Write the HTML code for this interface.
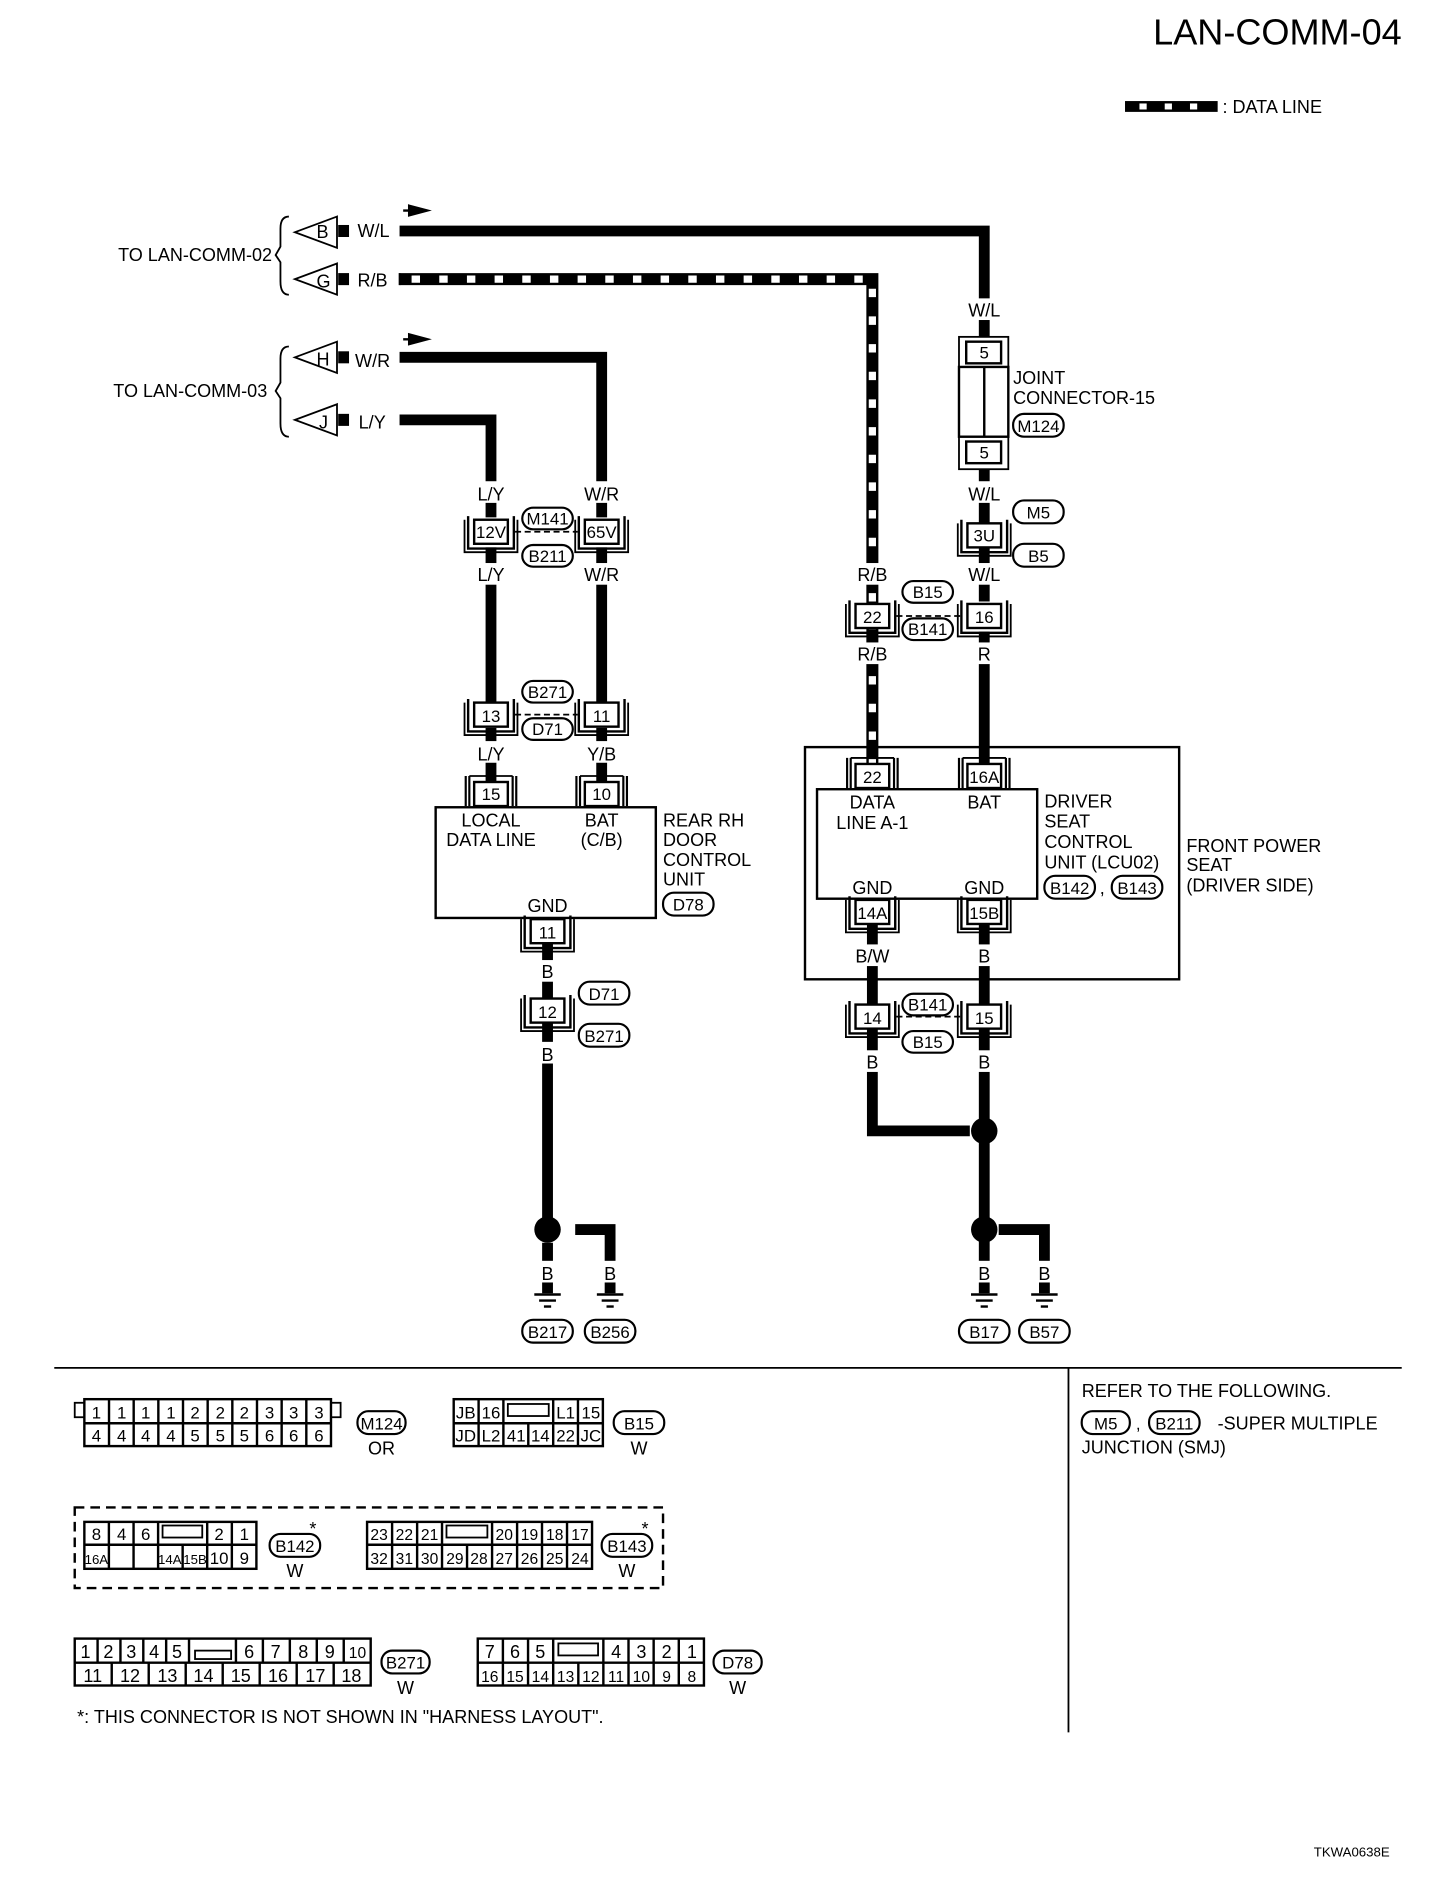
<!DOCTYPE html>
<html><head><meta charset="utf-8"><style>
html,body{margin:0;padding:0;background:#fff;}
svg{display:block;}
text{font-family:"Liberation Sans",sans-serif;fill:#000;}
</style></head><body>
<svg width="1456" height="1878" viewBox="0 0 1210 1561" xmlns="http://www.w3.org/2000/svg">
<defs>
<g id="cn"><path d="M-19,-13 V14 H19 V-13" fill="none" stroke="#000" stroke-width="2"/><path d="M-22,-10 V17 H22 V-10" fill="none" stroke="#000" stroke-width="1.5"/><rect x="-14" y="-10" width="28" height="20" fill="#fff" stroke="#000" stroke-width="2"/></g>
<g id="cnt"><path d="M-18,-15 V10 M18,-15 V10 M-21,-15 V10 M21,-15 V10" fill="none" stroke="#000" stroke-width="1.8"/><path d="M-18,-15 H18" stroke="#000" stroke-width="1.5"/><rect x="-14" y="-10" width="28" height="20" fill="#fff" stroke="#000" stroke-width="2"/></g>
<g id="gnd"><line x1="-11" y1="0" x2="11" y2="0" stroke="#000" stroke-width="2"/><line x1="-7" y1="5" x2="7" y2="5" stroke="#000" stroke-width="2"/><line x1="-3" y1="10" x2="3" y2="10" stroke="#000" stroke-width="2"/></g>
</defs>
<text x="1165" y="37" font-size="30" text-anchor="end">LAN-COMM-04</text>
<rect x="935" y="84" width="77" height="9" fill="#000"/>
<rect x="947" y="86" width="6" height="5" fill="#fff"/><rect x="968" y="86" width="6" height="5" fill="#fff"/><rect x="989" y="86" width="6" height="5" fill="#fff"/>
<text x="1016" y="94" font-size="15">: DATA LINE</text>

<g font-size="15">
<text x="226" y="217" text-anchor="end">TO LAN-COMM-02</text>
<text x="222" y="330" text-anchor="end">TO LAN-COMM-03</text>
<text x="297" y="197">W/L</text><text x="297" y="238">R/B</text>
<text x="295" y="305">W/R</text><text x="298" y="356">L/Y</text>
</g>
<g fill="none" stroke="#000" stroke-width="1.5">
<path d="M240,180 Q233,180 233,190 V205 L229,212 L233,218 V234 Q233,245 240,245"/>
<path d="M240,288 Q233,288 233,298 V318 L229,325 L233,331 V352 Q233,363 240,363"/>
<path d="M280,180 L245,193 L280,206 Z"/><path d="M280,219 L245,232 L280,245 Z"/>
<path d="M280,284 L245,297 L280,310 Z"/><path d="M280,336 L245,349 L280,362 Z"/>
</g>
<g font-size="15"><text x="263" y="198">B</text><text x="263" y="239">G</text><text x="263" y="304">H</text><text x="265" y="356">J</text></g>
<rect x="281" y="187" width="9" height="10" fill="#000"/><rect x="281" y="227" width="9" height="10" fill="#000"/>
<rect x="281" y="292" width="9" height="10" fill="#000"/><rect x="281" y="344" width="9" height="10" fill="#000"/>
<path d="M335,175 H345 M340,171 L355,175 L340,179 Z" stroke="#000" stroke-width="2"/>
<path d="M335,282 H345 M340,278 L355,282 L340,286 Z" stroke="#000" stroke-width="2"/>

<g fill="none" stroke="#000" stroke-width="9">
<path d="M332,192 H818 V280"/>
<path d="M818,390 V500"/><path d="M818,525 V640"/>
<path d="M332,297 H500 V430"/><path d="M500,455 V585"/><path d="M500,605 V655"/>
<path d="M332,349 H408 V430"/><path d="M408,455 V585"/><path d="M408,605 V655"/>
<path d="M455,768 V1012"/><path d="M478,1022 H507 V1075"/><path d="M455,1033 V1075"/>
<path d="M725,765 V940 H806"/><path d="M818,765 V1075"/><path d="M830,1022 H868 V1075"/>
</g>
<path d="M332,232 H725 V640" fill="none" stroke="#000" stroke-width="10"/>
<path d="M332,232 H725 V640" fill="none" stroke="#fff" stroke-width="6" stroke-dasharray="7,16" stroke-dashoffset="-10"/>
<path d="M332,227 V237" stroke="#000" stroke-width="1.5"/>
<circle cx="455" cy="1022" r="11"/><circle cx="818" cy="1022" r="11"/><circle cx="818" cy="940" r="11"/>
<g fill="#fff"><rect x="385" y="400" width="140" height="18"/><rect x="385" y="468" width="140" height="18"/><rect x="385" y="616" width="140" height="18"/>
<rect x="795" y="248" width="45" height="18"/><rect x="795" y="400" width="45" height="18"/><rect x="700" y="468" width="140" height="18"/><rect x="700" y="534" width="140" height="18"/>
<rect x="440" y="798" width="30" height="18"/><rect x="440" y="866" width="30" height="18"/><rect x="440" y="1048" width="80" height="18"/>
<rect x="700" y="785" width="140" height="18"/><rect x="700" y="873" width="140" height="18"/><rect x="800" y="1048" width="80" height="18"/></g>

<g font-size="15" text-anchor="middle">
<text x="818" y="263">W/L</text><text x="818" y="416">W/L</text><text x="818" y="483">W/L</text><text x="818" y="549">R</text>
<text x="725" y="483">R/B</text><text x="725" y="549">R/B</text>
<text x="408" y="416">L/Y</text><text x="500" y="416">W/R</text><text x="408" y="483">L/Y</text><text x="500" y="483">W/R</text>
<text x="408" y="632">L/Y</text><text x="500" y="632">Y/B</text>
<text x="455" y="813">B</text><text x="455" y="882">B</text><text x="455" y="1064">B</text><text x="507" y="1064">B</text>
<text x="725" y="800">B/W</text><text x="818" y="800">B</text><text x="725" y="888">B</text><text x="818" y="888">B</text>
<text x="818" y="1064">B</text><text x="868" y="1064">B</text>
</g>

<rect x="797" y="280" width="41" height="110" fill="#fff" stroke="#000" stroke-width="1.5"/>
<rect x="803" y="284" width="29" height="18" fill="#fff" stroke="#000" stroke-width="2"/>
<rect x="797" y="305" width="41" height="58" fill="#fff" stroke="#000" stroke-width="2"/>
<line x1="818" y1="305" x2="818" y2="363" stroke="#000" stroke-width="2"/>
<rect x="803" y="367" width="29" height="18" fill="#fff" stroke="#000" stroke-width="2"/>
<g font-size="14" text-anchor="middle"><text x="818" y="298">5</text><text x="818" y="381">5</text></g>
<text x="842" y="319" font-size="15">JOINT</text><text x="842" y="336" font-size="15">CONNECTOR-15</text>

<use href="#cn" x="408" y="442"/><use href="#cn" x="500" y="442"/>
<use href="#cn" x="818" y="445"/>
<use href="#cn" x="725" y="512"/><use href="#cn" x="818" y="512"/>
<use href="#cn" x="408" y="594"/><use href="#cn" x="500" y="594"/>
<use href="#cn" x="455" y="840"/>
<use href="#cn" x="725" y="845"/><use href="#cn" x="818" y="845"/>
<g font-size="14" text-anchor="middle">
<text x="408" y="447">12V</text><text x="500" y="447">65V</text><text x="818" y="450">3U</text>
<text x="725" y="518">22</text><text x="818" y="518">16</text>
<text x="408" y="600">13</text><text x="500" y="600">11</text>
<text x="455" y="846">12</text>
<text x="725" y="851">14</text><text x="818" y="851">15</text>
</g>
<g stroke="#000" stroke-width="1.5" stroke-dasharray="5,3"><line x1="428" y1="442" x2="480" y2="442"/><line x1="428" y1="594" x2="480" y2="594"/><line x1="745" y1="512" x2="798" y2="512"/><line x1="745" y1="845" x2="798" y2="845"/></g>

<g fill="#fff" stroke="#000" stroke-width="1.8">
<rect x="434" y="422" width="42" height="18" rx="9"/><rect x="434" y="453" width="42" height="18" rx="9"/>
<rect x="434" y="566" width="42" height="18" rx="9"/><rect x="434" y="597" width="42" height="18" rx="9"/>
<rect x="842" y="416" width="42" height="19" rx="9"/><rect x="842" y="452" width="42" height="19" rx="9"/>
<rect x="842" y="344" width="42" height="19" rx="9"/>
<rect x="750" y="483" width="42" height="18" rx="9"/><rect x="750" y="514" width="42" height="18" rx="9"/>
<rect x="750" y="826" width="42" height="18" rx="9"/><rect x="750" y="857" width="42" height="18" rx="9"/>
<rect x="481" y="816" width="42" height="19" rx="9"/><rect x="481" y="851" width="42" height="19" rx="9"/>
<rect x="551" y="742" width="42" height="19" rx="9"/>
<rect x="868" y="728" width="42" height="19" rx="9"/><rect x="924" y="728" width="42" height="19" rx="9"/>
<rect x="434" y="1097" width="42" height="19" rx="9"/><rect x="486" y="1097" width="42" height="19" rx="9"/>
<rect x="797" y="1097" width="42" height="19" rx="9"/><rect x="847" y="1097" width="42" height="19" rx="9"/>
</g>
<g font-size="14" text-anchor="middle">
<text x="455" y="436">M141</text><text x="455" y="467">B211</text>
<text x="455" y="580">B271</text><text x="455" y="611">D71</text>
<text x="863" y="431">M5</text><text x="863" y="467">B5</text><text x="863" y="359">M124</text>
<text x="771" y="497">B15</text><text x="771" y="528">B141</text>
<text x="771" y="840">B141</text><text x="771" y="871">B15</text>
<text x="502" y="831">D71</text><text x="502" y="866">B271</text>
<text x="572" y="757">D78</text>
<text x="889" y="743">B142</text><text x="945" y="743">B143</text>
<text x="455" y="1112">B217</text><text x="507" y="1112">B256</text>
<text x="818" y="1112">B17</text><text x="868" y="1112">B57</text>
</g>
<text x="914" y="743" font-size="15">,</text>

<use href="#gnd" x="455" y="1076"/><use href="#gnd" x="507" y="1076"/>
<use href="#gnd" x="818" y="1076"/><use href="#gnd" x="868" y="1076"/>

<rect x="362" y="671" width="183" height="92" fill="#fff" stroke="#000" stroke-width="2"/>
<g font-size="15"><text x="408" y="687" text-anchor="middle">LOCAL</text><text x="408" y="703" text-anchor="middle">DATA LINE</text>
<text x="500" y="687" text-anchor="middle">BAT</text><text x="500" y="703" text-anchor="middle">(C/B)</text>
<text x="455" y="758" text-anchor="middle">GND</text>
<text x="551" y="687">REAR RH</text><text x="551" y="703">DOOR</text><text x="551" y="720">CONTROL</text><text x="551" y="736">UNIT</text></g>
<rect x="669" y="621" width="311" height="193" fill="none" stroke="#000" stroke-width="2"/>
<rect x="679" y="656" width="183" height="91" fill="#fff" stroke="#000" stroke-width="2"/>
<g font-size="15"><text x="725" y="672" text-anchor="middle">DATA</text><text x="725" y="689" text-anchor="middle">LINE A-1</text>
<text x="818" y="672" text-anchor="middle">BAT</text>
<text x="725" y="743" text-anchor="middle">GND</text><text x="818" y="743" text-anchor="middle">GND</text>
<text x="868" y="671">DRIVER</text><text x="868" y="688">SEAT</text><text x="868" y="705">CONTROL</text><text x="868" y="722">UNIT (LCU02)</text>
<text x="986" y="708">FRONT POWER</text><text x="986" y="724">SEAT</text><text x="986" y="741">(DRIVER SIDE)</text></g>
<use href="#cnt" x="408" y="660"/><use href="#cnt" x="500" y="660"/>
<use href="#cnt" x="725" y="645"/><use href="#cnt" x="818" y="645"/>
<use href="#cn" x="455" y="774"/><use href="#cn" x="725" y="758"/><use href="#cn" x="818" y="758"/>
<g font-size="14" text-anchor="middle">
<text x="408" y="665">15</text><text x="500" y="665">10</text><text x="455" y="780">11</text>
<text x="725" y="651">22</text><text x="818" y="651">16A</text><text x="725" y="764">14A</text><text x="818" y="764">15B</text>
</g>

<line x1="45" y1="1137" x2="1165" y2="1137" stroke="#000" stroke-width="1.5"/>
<line x1="888" y1="1137" x2="888" y2="1440" stroke="#000" stroke-width="1.5"/>
<g font-size="15"><text x="899" y="1161">REFER TO THE FOLLOWING.</text>
<text x="1012" y="1188">-SUPER MULTIPLE</text><text x="899" y="1208">JUNCTION (SMJ)</text></g>
<g fill="#fff" stroke="#000" stroke-width="1.8"><rect x="899" y="1173" width="40" height="19" rx="9"/><rect x="955" y="1173" width="42" height="19" rx="9"/>
<rect x="297" y="1173" width="40" height="19" rx="9"/><rect x="510" y="1173" width="42" height="19" rx="9"/>
<rect x="224" y="1275" width="42" height="19" rx="9"/><rect x="500" y="1275" width="42" height="19" rx="9"/>
<rect x="317" y="1372" width="40" height="19" rx="9"/><rect x="593" y="1372" width="40" height="19" rx="9"/></g>
<g font-size="14" text-anchor="middle"><text x="919" y="1188">M5</text><text x="976" y="1188">B211</text><text x="946" y="1188">,</text>
<text x="317" y="1188">M124</text><text x="531" y="1188">B15</text><text x="245" y="1290">B142</text><text x="521" y="1290">B143</text>
<text x="337" y="1387">B271</text><text x="613" y="1387">D78</text></g>
<g font-size="15" text-anchor="middle"><text x="317" y="1209">OR</text><text x="531" y="1209">W</text><text x="245" y="1311">W</text><text x="521" y="1311">W</text>
<text x="337" y="1408">W</text><text x="613" y="1408">W</text><text x="260" y="1276">*</text><text x="536" y="1276">*</text></g>

<g fill="none" stroke="#000" stroke-width="2">
<rect x="70" y="1163" width="205" height="39"/><line x1="70" y1="1183" x2="275" y2="1183"/>
<path d="M90.5,1163V1202M111,1163V1202M131.5,1163V1202M152,1163V1202M172.5,1163V1202M193,1163V1202M213.5,1163V1202M234,1163V1202M254.5,1163V1202"/>
<rect x="62" y="1166" width="8" height="12" stroke-width="1.5"/><rect x="275" y="1166" width="8" height="12" stroke-width="1.5"/>
<rect x="377" y="1163" width="124" height="39"/><line x1="377" y1="1183" x2="501" y2="1183"/>
<path d="M397.7,1163V1202M418.3,1163V1183M439,1183V1202M459.7,1163V1202M480.3,1163V1202M418.3,1183V1202"/>
<rect x="422" y="1167" width="34" height="10" stroke-width="1.5"/>
<rect x="62" y="1253" width="489" height="67" stroke-dasharray="8,5"/>
<rect x="70" y="1265" width="143" height="39"/><line x1="70" y1="1284" x2="213" y2="1284"/>
<path d="M90.4,1265V1304M110.9,1265V1304M131.3,1265V1304M151.7,1284V1304M172.1,1265V1304M192.6,1265V1304"/>
<rect x="135" y="1268" width="33" height="10" stroke-width="1.5"/>
<rect x="305" y="1265" width="187" height="39"/><line x1="305" y1="1284" x2="492" y2="1284"/>
<path d="M325.8,1265V1304M346.6,1265V1304M367.3,1265V1304M388.1,1284V1304M408.9,1265V1304M429.7,1265V1304M450.4,1265V1304M471.2,1265V1304"/>
<rect x="371" y="1268" width="34" height="10" stroke-width="1.5"/>
<rect x="62" y="1362" width="246" height="39"/><line x1="62" y1="1382" x2="308" y2="1382"/>
<path d="M81,1362V1382M100,1362V1382M119,1362V1382M138,1362V1382M157,1362V1382M196,1362V1382M218.4,1362V1382M240.8,1362V1382M263.2,1362V1382M285.6,1362V1382"/>
<path d="M92.75,1382V1401M123.5,1382V1401M154.25,1382V1401M185,1382V1401M215.75,1382V1401M246.5,1382V1401M277.25,1382V1401"/>
<rect x="162" y="1372" width="30" height="7" stroke-width="1.5"/>
<rect x="397" y="1362" width="188" height="39"/><line x1="397" y1="1382" x2="585" y2="1382"/>
<path d="M417.9,1362V1401M438.8,1362V1401M459.7,1362V1401M480.6,1382V1401M501.4,1362V1401M522.3,1362V1401M543.2,1362V1401M564.1,1362V1401"/>
<rect x="464" y="1366" width="33" height="10" stroke-width="1.5"/>
</g>
<g font-size="14" text-anchor="middle">
<text x="80" y="1179">1</text><text x="101" y="1179">1</text><text x="121" y="1179">1</text><text x="142" y="1179">1</text><text x="162" y="1179">2</text><text x="183" y="1179">2</text><text x="203" y="1179">2</text><text x="224" y="1179">3</text><text x="244" y="1179">3</text><text x="265" y="1179">3</text>
<text x="80" y="1198">4</text><text x="101" y="1198">4</text><text x="121" y="1198">4</text><text x="142" y="1198">4</text><text x="162" y="1198">5</text><text x="183" y="1198">5</text><text x="203" y="1198">5</text><text x="224" y="1198">6</text><text x="244" y="1198">6</text><text x="265" y="1198">6</text>
<text x="387" y="1179">JB</text><text x="408" y="1179">16</text><text x="470" y="1179">L1</text><text x="491" y="1179">15</text>
<text x="387" y="1198">JD</text><text x="408" y="1198">L2</text><text x="429" y="1198">41</text><text x="449" y="1198">14</text><text x="470" y="1198">22</text><text x="491" y="1198">JC</text>
<text x="80" y="1280">8</text><text x="101" y="1280">4</text><text x="121" y="1280">6</text><text x="182" y="1280">2</text><text x="203" y="1280">1</text>
<text x="80" y="1300" font-size="11">16A</text><text x="141" y="1300" font-size="11">14A</text><text x="162" y="1300" font-size="11">15B</text><text x="182" y="1300">10</text><text x="203" y="1300">9</text>
</g>
<g font-size="13" text-anchor="middle">
<text x="315" y="1280">23</text><text x="336" y="1280">22</text><text x="357" y="1280">21</text><text x="419" y="1280">20</text><text x="440" y="1280">19</text><text x="461" y="1280">18</text><text x="482" y="1280">17</text>
<text x="315" y="1300">32</text><text x="336" y="1300">31</text><text x="357" y="1300">30</text><text x="378" y="1300">29</text><text x="398" y="1300">28</text><text x="419" y="1300">27</text><text x="440" y="1300">26</text><text x="461" y="1300">25</text><text x="482" y="1300">24</text>
</g>
<g font-size="15" text-anchor="middle">
<text x="71" y="1378">1</text><text x="90" y="1378">2</text><text x="109" y="1378">3</text><text x="128" y="1378">4</text><text x="147" y="1378">5</text><text x="207" y="1378">6</text><text x="229" y="1378">7</text><text x="252" y="1378">8</text><text x="274" y="1378">9</text><text x="297" y="1378" font-size="13">10</text>
<text x="77" y="1398">11</text><text x="108" y="1398">12</text><text x="139" y="1398">13</text><text x="169" y="1398">14</text><text x="200" y="1398">15</text><text x="231" y="1398">16</text><text x="262" y="1398">17</text><text x="292" y="1398">18</text>
<text x="407" y="1378">7</text><text x="428" y="1378">6</text><text x="449" y="1378">5</text><text x="512" y="1378">4</text><text x="533" y="1378">3</text><text x="554" y="1378">2</text><text x="575" y="1378">1</text>
</g>
<g font-size="13" text-anchor="middle">
<text x="407" y="1398">16</text><text x="428" y="1398">15</text><text x="449" y="1398">14</text><text x="470" y="1398">13</text><text x="491" y="1398">12</text><text x="512" y="1398">11</text><text x="533" y="1398">10</text><text x="554" y="1398">9</text><text x="575" y="1398">8</text>
</g>
<text x="64" y="1432" font-size="15">*: THIS CONNECTOR IS NOT SHOWN IN "HARNESS LAYOUT".</text>
<text x="1155" y="1543" font-size="11" text-anchor="end">TKWA0638E</text>
</svg>
</body></html>
